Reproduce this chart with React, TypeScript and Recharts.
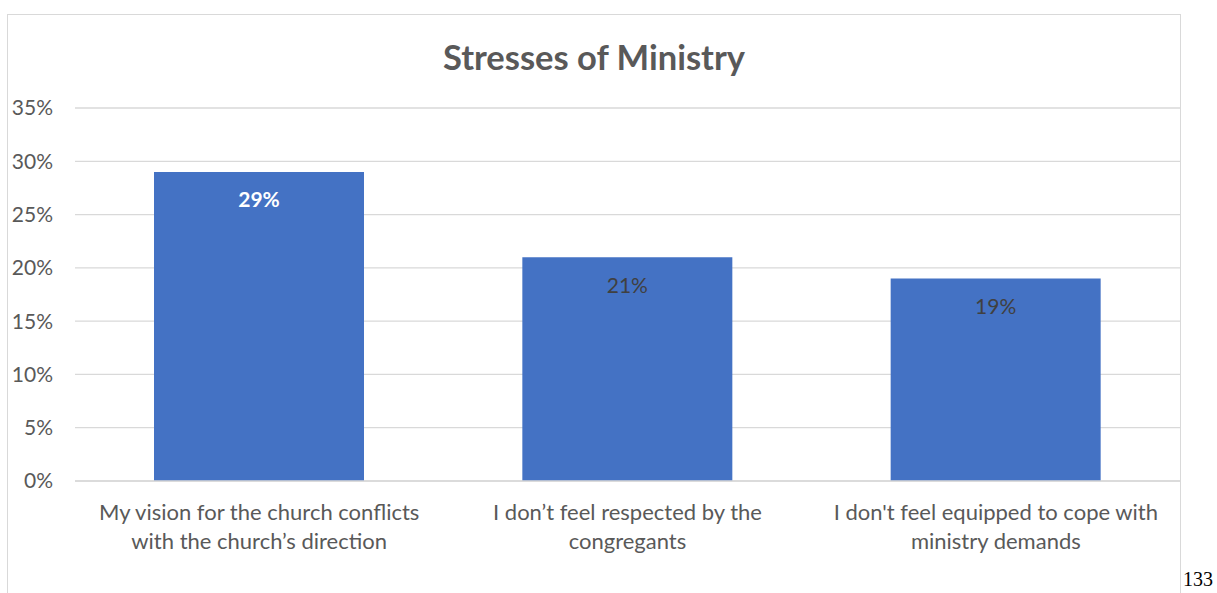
import { BarChart, Bar, XAxis, YAxis, CartesianGrid, LabelList } from 'recharts'

const categories = [
  'My vision for the church conflicts\nwith the church’s direction',
  'I don’t feel respected by the\ncongregants',
  "I don't feel equipped to cope with\nministry demands",
]
const values = [0.29, 0.21, 0.19]
const yTicks = [0, 0.05, 0.1, 0.15, 0.2, 0.25, 0.3, 0.35]

const data = categories.map((name, i) => ({ name, value: values[i] }))

const FONT = 'Lato, "Open Sans", sans-serif'
const pct = (v: number) => `${Math.round(v * 100)}%`

const CategoryTick = (props: any) => {
  const { x, y, payload } = props
  const lines = String(payload.value).split('\n')
  return (
    <text x={x} y={y} textAnchor="middle" fill="#595959" fontSize={22} fontFamily={FONT}>
      {lines.map((l, i) => (
        <tspan key={i} x={x} dy={i === 0 ? 31 : 29}>
          {l}
        </tspan>
      ))}
    </text>
  )
}

const BarValue = (props: any) => {
  const { x, y, width, value, index } = props
  const first = index === 0
  return (
    <text
      x={x + width / 2}
      y={y + 27}
      textAnchor="middle"
      dominantBaseline="central"
      fontSize={21}
      fontFamily={FONT}
      fontWeight={first ? 700 : 400}
      fill={first ? '#ffffff' : '#404040'}
    >
      {pct(value)}
    </text>
  )
}

export default function App() {
  return (
    <div style={{ position: 'absolute', left: 0, top: 0, width: 1217, height: 593, overflow: 'hidden', background: '#fff' }}>
      <div
        style={{
          position: 'absolute',
          left: 7,
          top: 14,
          width: 1172,
          height: 600,
          border: '1px solid #d9d9d9',
        }}
      >
        <div
          style={{
            position: 'absolute',
            left: 0,
            right: 0,
            top: 22,
            textAlign: 'center',
            fontFamily: FONT,
            fontWeight: 700,
            fontSize: 34.5,
            color: '#595959',
            lineHeight: '40px',
          }}
        >
          Stresses of Ministry
        </div>
        <div style={{ position: 'absolute', left: 0, top: 0 }}>
          <BarChart
            width={1172}
            height={578}
            data={data}
            margin={{ top: 93, right: 0, left: 7, bottom: 32 }}
            barCategoryGap={0}
          >
            <CartesianGrid vertical={false} stroke="#d9d9d9" strokeWidth={1.3} />
            <XAxis
              dataKey="name"
              axisLine={{ stroke: '#d9d9d9', strokeWidth: 1.3 }}
              tickLine={false}
              interval={0}
              height={80}
              tick={<CategoryTick />}
            />
            <YAxis
              width={60}
              domain={[0, 0.35]}
              ticks={yTicks}
              tickFormatter={pct}
              axisLine={false}
              tickLine={false}
              tickSize={0}
              tickMargin={22}
              tick={{ fill: '#595959', fontSize: 21, fontFamily: FONT }}
            />
            <Bar dataKey="value" fill="#4472C4" barSize={210} isAnimationActive={false}>
              <LabelList dataKey="value" content={<BarValue />} />
            </Bar>
          </BarChart>
        </div>
      </div>
      <div
        style={{
          position: 'absolute',
          left: 1183,
          top: 568,
          fontFamily: '"Liberation Serif", "DejaVu Serif", serif',
          fontSize: 20,
          color: '#000',
        }}
      >
        133
      </div>
    </div>
  )
}
